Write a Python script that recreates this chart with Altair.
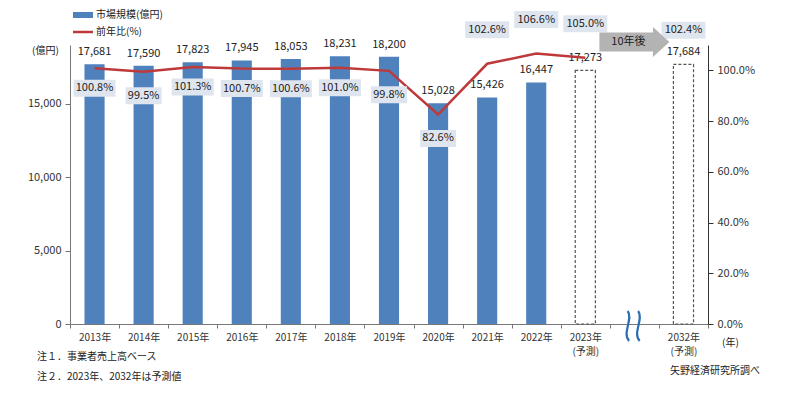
import altair as alt
import pandas as pd

# ---- data ----
years = ["2013年", "2014年", "2015年", "2016年", "2017年", "2018年", "2019年",
         "2020年", "2021年", "2022年", "2023年(予測)", "2032年(予測)"]
market = [17681, 17590, 17823, 17945, 18053, 18231, 18200, 15028, 15426, 16447, 17273, 17684]
yoy = [100.8, 99.5, 101.3, 100.7, 100.6, 101.0, 99.8, 82.6, 102.6, 106.6, 105.0, 102.4]
gap = " "
cats = years[:11] + [gap] + years[11:]

left_ticks = [0, 5000, 10000, 15000]
right_ticks = [0, 20, 40, 60, 80, 100]

df = pd.DataFrame({"cat": years, "market": market, "yoy": yoy})
df["forecast"] = df["cat"].str.contains("予測")
df["yr"] = df["cat"].str[:4].astype(int)
df["mlabel"] = df["market"].map(lambda v: f"{v:,}")
df["plabel"] = df["yoy"].map(lambda v: f"{v:.1f}%")
df["online"] = df["yr"] < 2030
df["below"] = df["yr"] < 2021
df["plen"] = df["plabel"].str.len()

FONT = "Noto Sans CJK JP"
BLUE = "#4f81bd"
RED = "#be3a3a"
BOX = "#dfe5ee"
TXT = "#222222"

xaxis = alt.Axis(title=None, tickBand="extent", labelFontSize=10, labelColor="#333",
                 domainColor="#777", tickColor="#777", tickSize=4, labelPadding=4,
                 labelFont=FONT, labelAngle=0, labelLineHeight=14,
                 labelExpr="split(replace(datum.label, '(', '|('), '|')")
xenc = alt.X("cat:N", sort=cats, scale=alt.Scale(domain=cats, paddingInner=0, paddingOuter=0), axis=xaxis)

lscale = alt.Scale(domain=[0, 19000], nice=False, zero=True)
rscale = alt.Scale(domain=[0, 110], nice=False, zero=True)

base = alt.Chart(df)

bars = base.transform_filter("!datum.forecast").mark_bar(
    width=alt.RelativeBandSize(0.41), color=BLUE
).encode(
    x=xenc,
    y=alt.Y("market:Q", scale=lscale,
            axis=alt.Axis(title=None, values=left_ticks, grid=False,
                          labelExpr="format(datum.value, ',')",
                          labelFontSize=11, labelColor="#333", labelFont=FONT,
                          domainColor="#777", tickColor="#777", tickSize=5, labelPadding=4)),
)

fbars = base.transform_filter("datum.forecast").mark_bar(
    width=alt.RelativeBandSize(0.41), fill="white", stroke="#555", strokeWidth=1.2,
    strokeDash=[3, 2]
).encode(x=xenc, y=alt.Y("market:Q", scale=lscale, axis=None))

mtext = base.mark_text(dy=-12, fontSize=11, color=TXT, font=FONT).encode(
    x=xenc, y=alt.Y("market:Q", scale=lscale, axis=None), text="mlabel:N")

line = base.transform_filter("datum.online").mark_line(color=RED, strokeWidth=2.5).encode(
    x=xenc,
    y=alt.Y("yoy:Q", scale=rscale,
            axis=alt.Axis(title=None, orient="right", values=right_ticks, grid=False,
                          labelExpr="format(datum.value, '.1f') + '%'",
                          labelFontSize=11, labelColor="#333", labelFont=FONT,
                          domainColor="#333", tickColor="#333", tickSize=5, labelPadding=4)),
)


def pct_layer(cond, off, w):
    sub = base.transform_filter(cond)
    box = sub.mark_rect(width=w, height=17, color=BOX, yOffset=off).encode(
        x=xenc, y=alt.Y("yoy:Q", scale=rscale, axis=None))
    txt = sub.mark_text(fontSize=11, color=TXT, font=FONT, yOffset=off).encode(
        x=xenc, y=alt.Y("yoy:Q", scale=rscale, axis=None), text="plabel:N")
    return [box, txt]


players = []
players += pct_layer("datum.below && datum.plen == 6", 20, 42)
players += pct_layer("datum.below && datum.plen == 5", 24, 36)
players += pct_layer("!datum.below", -34, 44)

# arrow "10年後" and axis break mark in the gap band
ann = pd.DataFrame({"cat": [gap], "t": ["10年後"]})
arrow_path = "M-1,-0.27L0.53,-0.27L0.53,-0.43L1,0L0.53,0.43L0.53,0.27L-1,0.27Z"
arrow = alt.Chart(ann).mark_point(shape=arrow_path, size=4900, filled=True, fill="#b3b3b3",
                                  opacity=1, strokeWidth=0).encode(
    x=xenc, y=alt.value(-3))
arrow_t = alt.Chart(ann).mark_text(fontSize=11, color=TXT, font=FONT, dx=-6).encode(
    x=xenc, y=alt.value(-3), text="t:N")
brk_path = ("M-0.45,-1 C-0.05,-0.5 -0.85,0.5 -0.35,1 "
            "M0.25,-1 C0.65,-0.5 -0.15,0.5 0.35,1")
brk = alt.Chart(ann).mark_point(shape=brk_path, size=900, filled=False, stroke="#2e6db4",
                                strokeWidth=2.2, opacity=1).encode(
    x=xenc, y=alt.value(281))

# legend and free texts
notes = pd.DataFrame({
    "t": ["市場規模(億円)", "前年比(%)", "(億円)", "(年)", "注１．事業者売上高ベース",
          "注２．2023年、2032年は予測値", "矢野経済研究所調べ"],
    "x": [26, 26, -38, 652, -33, -33, 600],
    "y": [-30, -13, 6, 298, 312, 332, 326],
})
ntext = alt.Chart(notes).mark_text(align="left", baseline="middle", fontSize=10, color=TXT,
                                   font=FONT).encode(
    x=alt.X("x:Q", scale=None), y=alt.Y("y:Q", scale=None), text="t:N")
leg_rect = alt.Chart(ann).mark_rect(color=BLUE).encode(
    x=alt.value(3), x2=alt.value(23), y=alt.value(-33), y2=alt.value(-27))
leg_line = alt.Chart(ann).mark_rule(color=RED, strokeWidth=2.5).encode(
    x=alt.value(3), x2=alt.value(23), y=alt.value(-13))

chart = alt.layer(
    bars, fbars, mtext, line, *players, arrow, arrow_t, brk, ntext, leg_rect, leg_line
).resolve_scale(y="independent").properties(
    width=638, height=279, autosize=alt.AutoSizeParams(type="none"),
    padding={"left": 70, "top": 45, "right": 92, "bottom": 76},
    background="white",
).configure_view(stroke=None)

chart.save("out.html", embed_options={"renderer": "svg", "actions": False})
